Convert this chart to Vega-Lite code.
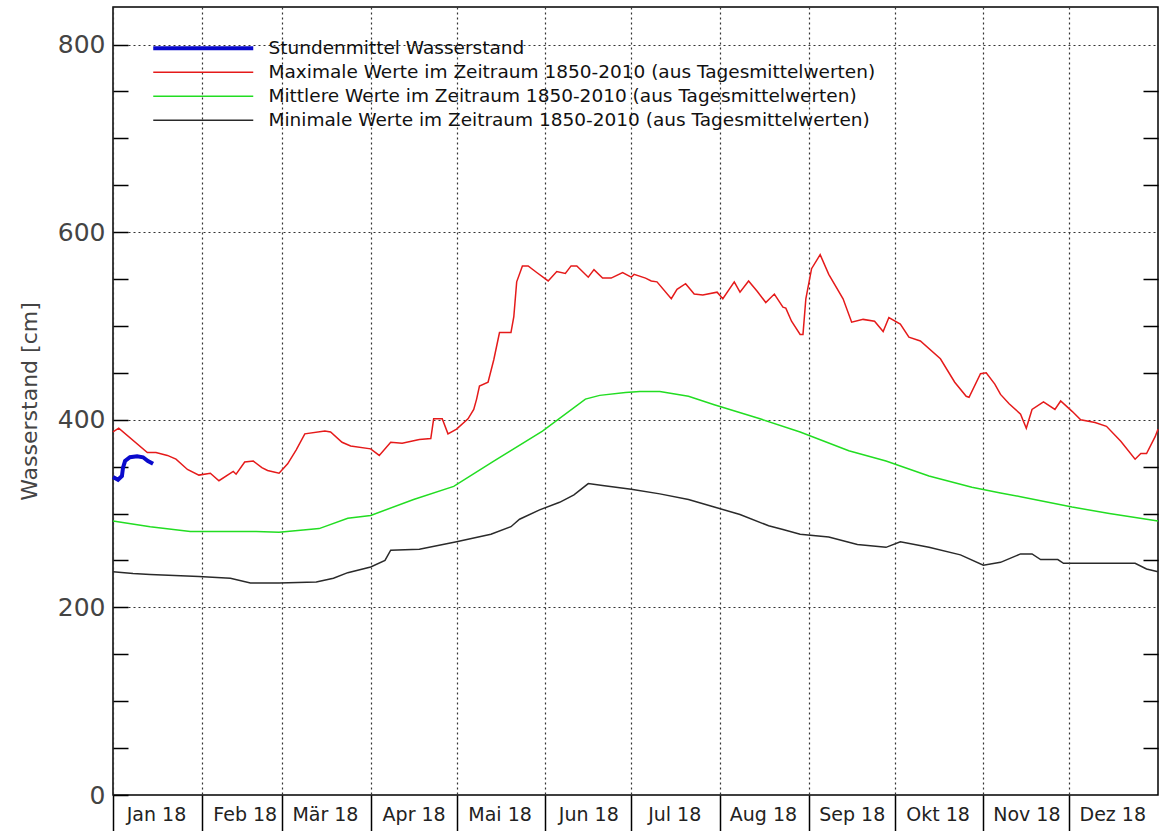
{
  "$schema": "https://vega.github.io/schema/vega-lite/v6.json",
  "width": 1045,
  "height": 788,
  "autosize": {"type": "none"},
  "padding": {"left": 113, "top": 7, "right": 1, "bottom": 36},
  "background": "white",
  "config": {"view": {"stroke": "#000", "strokeWidth": 1.5}, "font": "DejaVu Sans"},
  "data": {"values": [
    {"s":"max","d":"2018-01-01","v":387},{"s":"max","d":"2018-01-03","v":391},{"s":"max","d":"2018-01-13","v":365},{"s":"max","d":"2018-01-16","v":365},
    {"s":"max","d":"2018-01-20","v":362},{"s":"max","d":"2018-01-23","v":358},{"s":"max","d":"2018-01-27","v":347},{"s":"max","d":"2018-01-31","v":341},
    {"s":"max","d":"2018-02-04","v":343},{"s":"max","d":"2018-02-07","v":335},{"s":"max","d":"2018-02-12","v":345},{"s":"max","d":"2018-02-13","v":342},
    {"s":"max","d":"2018-02-16","v":355},{"s":"max","d":"2018-02-19","v":356},{"s":"max","d":"2018-02-22","v":349},{"s":"max","d":"2018-02-24","v":346},
    {"s":"max","d":"2018-02-28","v":343},{"s":"max","d":"2018-03-03","v":353},{"s":"max","d":"2018-03-06","v":368},{"s":"max","d":"2018-03-09","v":385},
    {"s":"max","d":"2018-03-16","v":388},{"s":"max","d":"2018-03-18","v":387},{"s":"max","d":"2018-03-22","v":376},{"s":"max","d":"2018-03-25","v":372},
    {"s":"max","d":"2018-04-01","v":369},{"s":"max","d":"2018-04-04","v":362},{"s":"max","d":"2018-04-08","v":376},{"s":"max","d":"2018-04-12","v":375},
    {"s":"max","d":"2018-04-18","v":379},{"s":"max","d":"2018-04-22","v":380},{"s":"max","d":"2018-04-23","v":401},{"s":"max","d":"2018-04-26","v":401},
    {"s":"max","d":"2018-04-28","v":385},{"s":"max","d":"2018-05-01","v":390},{"s":"max","d":"2018-05-05","v":401},{"s":"max","d":"2018-05-07","v":411},
    {"s":"max","d":"2018-05-08","v":422},{"s":"max","d":"2018-05-09","v":436},{"s":"max","d":"2018-05-12","v":440},{"s":"max","d":"2018-05-14","v":464},
    {"s":"max","d":"2018-05-16","v":493},{"s":"max","d":"2018-05-20","v":493},{"s":"max","d":"2018-05-21","v":510},{"s":"max","d":"2018-05-22","v":547},
    {"s":"max","d":"2018-05-24","v":564},{"s":"max","d":"2018-05-26","v":564},{"s":"max","d":"2018-05-29","v":557},{"s":"max","d":"2018-06-02","v":548},
    {"s":"max","d":"2018-06-05","v":558},{"s":"max","d":"2018-06-08","v":556},{"s":"max","d":"2018-06-10","v":564},{"s":"max","d":"2018-06-12","v":564},
    {"s":"max","d":"2018-06-16","v":552},{"s":"max","d":"2018-06-18","v":560},{"s":"max","d":"2018-06-21","v":551},{"s":"max","d":"2018-06-24","v":551},
    {"s":"max","d":"2018-06-28","v":557},{"s":"max","d":"2018-07-01","v":552},{"s":"max","d":"2018-07-02","v":555},{"s":"max","d":"2018-07-06","v":551},
    {"s":"max","d":"2018-07-08","v":548},{"s":"max","d":"2018-07-10","v":547},{"s":"max","d":"2018-07-15","v":529},{"s":"max","d":"2018-07-17","v":539},
    {"s":"max","d":"2018-07-20","v":545},{"s":"max","d":"2018-07-23","v":534},{"s":"max","d":"2018-07-26","v":533},{"s":"max","d":"2018-07-31","v":536},
    {"s":"max","d":"2018-08-02","v":529},{"s":"max","d":"2018-08-06","v":547},{"s":"max","d":"2018-08-08","v":536},{"s":"max","d":"2018-08-11","v":548},
    {"s":"max","d":"2018-08-14","v":537},{"s":"max","d":"2018-08-17","v":525},{"s":"max","d":"2018-08-20","v":534},{"s":"max","d":"2018-08-23","v":520},
    {"s":"max","d":"2018-08-24","v":519},{"s":"max","d":"2018-08-26","v":505},{"s":"max","d":"2018-08-29","v":491},{"s":"max","d":"2018-08-30","v":491},
    {"s":"max","d":"2018-08-31","v":529},{"s":"max","d":"2018-09-02","v":561},{"s":"max","d":"2018-09-05","v":576},{"s":"max","d":"2018-09-08","v":555},
    {"s":"max","d":"2018-09-13","v":529},{"s":"max","d":"2018-09-16","v":504},{"s":"max","d":"2018-09-20","v":507},{"s":"max","d":"2018-09-24","v":505},
    {"s":"max","d":"2018-09-27","v":494},{"s":"max","d":"2018-09-29","v":509},{"s":"max","d":"2018-10-03","v":502},{"s":"max","d":"2018-10-06","v":488},
    {"s":"max","d":"2018-10-10","v":484},{"s":"max","d":"2018-10-17","v":465},{"s":"max","d":"2018-10-22","v":440},{"s":"max","d":"2018-10-26","v":425},
    {"s":"max","d":"2018-10-27","v":424},{"s":"max","d":"2018-10-31","v":449},{"s":"max","d":"2018-11-02","v":450},{"s":"max","d":"2018-11-05","v":438},
    {"s":"max","d":"2018-11-07","v":427},{"s":"max","d":"2018-11-10","v":417},{"s":"max","d":"2018-11-14","v":406},{"s":"max","d":"2018-11-16","v":391},
    {"s":"max","d":"2018-11-18","v":411},{"s":"max","d":"2018-11-22","v":419},{"s":"max","d":"2018-11-26","v":411},{"s":"max","d":"2018-11-28","v":420},
    {"s":"max","d":"2018-12-02","v":409},{"s":"max","d":"2018-12-05","v":400},{"s":"max","d":"2018-12-10","v":397},{"s":"max","d":"2018-12-14","v":393},
    {"s":"max","d":"2018-12-19","v":377},{"s":"max","d":"2018-12-24","v":358},{"s":"max","d":"2018-12-26","v":364},{"s":"max","d":"2018-12-28","v":364},
    {"s":"max","d":"2018-12-31","v":382},{"s":"max","d":"2019-01-01","v":390},
    {"s":"mittel","d":"2018-01-01","v":292},{"s":"mittel","d":"2018-01-14","v":286},{"s":"mittel","d":"2018-01-28","v":281},{"s":"mittel","d":"2018-02-20","v":281},
    {"s":"mittel","d":"2018-02-28","v":280},{"s":"mittel","d":"2018-03-14","v":284},{"s":"mittel","d":"2018-03-24","v":295},{"s":"mittel","d":"2018-04-01","v":298},
    {"s":"mittel","d":"2018-04-16","v":315},{"s":"mittel","d":"2018-04-30","v":329},{"s":"mittel","d":"2018-05-14","v":356},{"s":"mittel","d":"2018-05-31","v":388},
    {"s":"mittel","d":"2018-06-15","v":422},{"s":"mittel","d":"2018-06-20","v":426},{"s":"mittel","d":"2018-06-29","v":429},{"s":"mittel","d":"2018-07-04","v":430},
    {"s":"mittel","d":"2018-07-11","v":430},{"s":"mittel","d":"2018-07-21","v":425},{"s":"mittel","d":"2018-07-30","v":416},{"s":"mittel","d":"2018-08-15","v":401},
    {"s":"mittel","d":"2018-08-29","v":387},{"s":"mittel","d":"2018-09-15","v":367},{"s":"mittel","d":"2018-09-28","v":356},{"s":"mittel","d":"2018-10-13","v":340},
    {"s":"mittel","d":"2018-10-28","v":328},{"s":"mittel","d":"2018-11-07","v":322},{"s":"mittel","d":"2018-11-14","v":318},{"s":"mittel","d":"2018-12-02","v":307},
    {"s":"mittel","d":"2018-12-15","v":300},{"s":"mittel","d":"2019-01-01","v":292},
    {"s":"min","d":"2018-01-01","v":238},{"s":"min","d":"2018-01-08","v":236},{"s":"min","d":"2018-01-14","v":235},{"s":"min","d":"2018-01-31","v":233},
    {"s":"min","d":"2018-02-11","v":231},{"s":"min","d":"2018-02-18","v":226},{"s":"min","d":"2018-02-28","v":226},{"s":"min","d":"2018-03-13","v":227},
    {"s":"min","d":"2018-03-19","v":231},{"s":"min","d":"2018-03-24","v":237},{"s":"min","d":"2018-04-01","v":243},{"s":"min","d":"2018-04-06","v":250},
    {"s":"min","d":"2018-04-08","v":261},{"s":"min","d":"2018-04-18","v":262},{"s":"min","d":"2018-05-01","v":270},{"s":"min","d":"2018-05-13","v":278},
    {"s":"min","d":"2018-05-20","v":286},{"s":"min","d":"2018-05-23","v":294},{"s":"min","d":"2018-05-30","v":304},{"s":"min","d":"2018-06-06","v":312},
    {"s":"min","d":"2018-06-11","v":320},{"s":"min","d":"2018-06-16","v":332},{"s":"min","d":"2018-06-21","v":330},{"s":"min","d":"2018-07-01","v":326},
    {"s":"min","d":"2018-07-11","v":321},{"s":"min","d":"2018-07-21","v":315},{"s":"min","d":"2018-07-30","v":307},{"s":"min","d":"2018-08-08","v":299},
    {"s":"min","d":"2018-08-18","v":287},{"s":"min","d":"2018-08-23","v":283},{"s":"min","d":"2018-08-29","v":278},{"s":"min","d":"2018-09-08","v":275},
    {"s":"min","d":"2018-09-18","v":267},{"s":"min","d":"2018-09-28","v":264},{"s":"min","d":"2018-10-03","v":270},{"s":"min","d":"2018-10-13","v":264},
    {"s":"min","d":"2018-10-24","v":256},{"s":"min","d":"2018-11-01","v":245},{"s":"min","d":"2018-11-07","v":248},{"s":"min","d":"2018-11-14","v":257},
    {"s":"min","d":"2018-11-18","v":257},{"s":"min","d":"2018-11-21","v":251},{"s":"min","d":"2018-11-27","v":251},{"s":"min","d":"2018-11-29","v":247},
    {"s":"min","d":"2018-12-24","v":247},{"s":"min","d":"2018-12-28","v":241},{"s":"min","d":"2019-01-01","v":238},
    {"s":"stunde","d":"2018-01-01T00:00:00Z","v":339},{"s":"stunde","d":"2018-01-02T18:00:00Z","v":336},{"s":"stunde","d":"2018-01-04T03:00:00Z","v":340},
    {"s":"stunde","d":"2018-01-04T12:00:00Z","v":349},{"s":"stunde","d":"2018-01-05T05:00:00Z","v":356},{"s":"stunde","d":"2018-01-06T22:00:00Z","v":360},
    {"s":"stunde","d":"2018-01-09T10:00:00Z","v":361},{"s":"stunde","d":"2018-01-11T12:00:00Z","v":360},{"s":"stunde","d":"2018-01-13T05:00:00Z","v":356},
    {"s":"stunde","d":"2018-01-15T00:00:00Z","v":353}
  ]},
  "encoding": {
    "x": {
      "field": "d", "type": "temporal",
      "scale": {"type": "utc", "domain": [{"year": 2018, "month": 1, "date": 1, "utc": true}, {"year": 2019, "month": 1, "date": 1, "utc": true}]},
      "axis": {
        "title": null,
        "values": [
          {"year": 2018, "month": 1, "date": 1, "utc": true}, {"year": 2018, "month": 2, "date": 1, "utc": true},
          {"year": 2018, "month": 3, "date": 1, "utc": true}, {"year": 2018, "month": 4, "date": 1, "utc": true},
          {"year": 2018, "month": 5, "date": 1, "utc": true}, {"year": 2018, "month": 6, "date": 1, "utc": true},
          {"year": 2018, "month": 7, "date": 1, "utc": true}, {"year": 2018, "month": 8, "date": 1, "utc": true},
          {"year": 2018, "month": 9, "date": 1, "utc": true}, {"year": 2018, "month": 10, "date": 1, "utc": true},
          {"year": 2018, "month": 11, "date": 1, "utc": true}, {"year": 2018, "month": 12, "date": 1, "utc": true}
        ],
        "labelExpr": "['Jan','Feb','Mär','Apr','Mai','Jun','Jul','Aug','Sep','Okt','Nov','Dez'][utcmonth(datum.value)] + ' 18'",
        "labelOffset": 43, "labelAlign": "center", "labelBaseline": "top", "labelPadding": -30,
        "labelFlush": false, "labelOverlap": false, "labelBound": false,
        "labelFont": "DejaVu Sans", "labelFontSize": 19, "labelColor": "#222",
        "tickSize": 40, "tickColor": "#000", "tickWidth": 1.5,
        "domain": false, "grid": true, "gridColor": "#333", "gridDash": [2, 3], "gridWidth": 1.2
      }
    }
  },
  "layer": [
    {
      "mark": {"type": "line", "interpolate": "linear"},
      "encoding": {
        "y": {
          "field": "v", "type": "quantitative",
          "scale": {"domain": [0, 840], "nice": false, "zero": true},
          "axis": {
            "values": [0, 50, 100, 150, 200, 250, 300, 350, 400, 450, 500, 550, 600, 650, 700, 750, 800],
            "labelExpr": "datum.value % 200 === 0 ? datum.label : ''",
            "labelOverlap": false, "labelFlush": false,
            "title": "Wasserstand [cm]", "titleFont": "DejaVu Sans", "titleFontSize": 22, "titleFontWeight": "normal",
            "titleColor": "#444", "titlePadding": 16,
            "labelFont": "DejaVu Sans", "labelFontSize": 25, "labelColor": "#444", "labelPadding": 23,
            "tickSize": -15, "tickColor": "#000", "tickWidth": 1.5,
            "domain": false, "grid": true, "gridColor": "#333", "gridDash": [2, 3], "gridWidth": 1.2,
            "gridOpacity": {"condition": {"test": "datum.value % 200 === 0 && datum.value > 0", "value": 1}, "value": 0}
          }
        },
        "color": {
          "field": "s", "type": "nominal",
          "scale": {"domain": ["stunde", "max", "mittel", "min"], "range": ["#0a0acc", "#e51a1a", "#22dd22", "#2a2a2a"]},
          "legend": {
            "orient": "none", "legendX": 81, "legendY": 32, "title": null,
            "symbolType": "M-10,0H10", "symbolSize": 100,
            "labelFont": "DejaVu Sans", "labelFontSize": 18.5, "labelColor": "#111",
            "labelOffset": 56, "rowPadding": 5, "padding": 0, "labelLimit": 0,
            "labelExpr": "datum.label === 'stunde' ? 'Stundenmittel Wasserstand' : datum.label === 'max' ? 'Maximale Werte im Zeitraum 1850-2010 (aus Tagesmittelwerten)' : datum.label === 'mittel' ? 'Mittlere Werte im Zeitraum 1850-2010 (aus Tagesmittelwerten)' : 'Minimale Werte im Zeitraum 1850-2010 (aus Tagesmittelwerten)'",
            "encode": {"symbols": {"update": {"strokeWidth": {"signal": "datum.value === 'stunde' ? 4 : 1.5"}}}}
          }
        },
        "strokeWidth": {"condition": {"test": "datum.s === 'stunde'", "value": 4}, "value": 1.5}
      }
    },
    {
      "mark": {"type": "line", "opacity": 0},
      "encoding": {
        "y": {
          "field": "v", "type": "quantitative",
          "scale": {"domain": [0, 840], "nice": false, "zero": true},
          "axis": {
            "orient": "right", "title": null, "labels": false,
            "values": [50, 100, 150, 250, 300, 350, 450, 500, 550, 650, 700, 750],
            "tickSize": -15, "tickColor": "#000", "tickWidth": 1.5, "domain": false, "grid": false
          }
        }
      }
    }
  ],
  "resolve": {"axis": {"y": "independent"}}
}
